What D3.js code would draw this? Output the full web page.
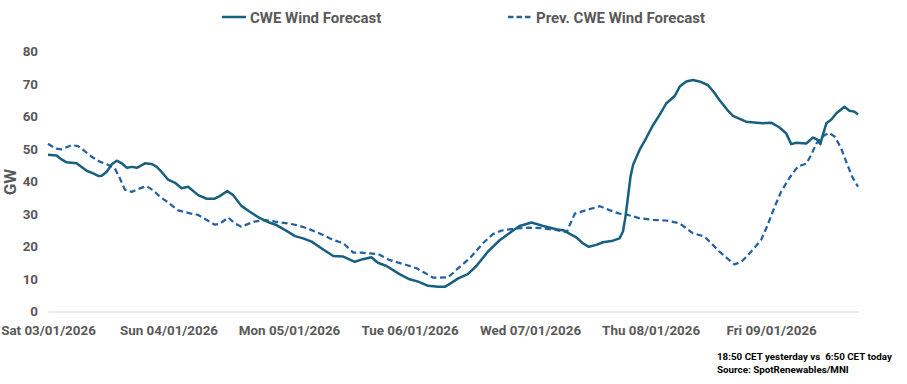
<!DOCTYPE html>
<html><head><meta charset="utf-8">
<script src="https://cdn.jsdelivr.net/npm/d3@7"></script>
<style>
body{margin:0;background:#fff}
text{font-family:"Roboto","Liberation Sans",sans-serif;font-weight:bold;white-space:pre}
</style>
</head><body>
<svg id="c" width="907" height="384"></svg>
<script>
// ---- data ----
const dayLabels = ["Sat 03/01/2026","Sun 04/01/2026","Mon 05/01/2026","Tue 06/01/2026","Wed 07/01/2026","Thu 08/01/2026","Fri 09/01/2026"];
const dayHours = [0,24,48,72,96,120,144];
const yTicks = [0,10,20,30,40,50,60,70,80];
const seriesNames = ["CWE Wind Forecast","Prev. CWE Wind Forecast"];
const footerLines = ["18:50 CET yesterday vs  6:50 CET today","Source: SpotRenewables/MNI"];

// hours since Sat 03/01/2026 00:00
const cweHours = [0,1.7,2.7,3.7,5.7,7.7,9.0,10.0,10.7,11.7,12.7,13.7,14.7,15.7,16.7,17.7,19.3,20.6,21.6,22.6,23.9,25.3,26.6,27.9,29.9,31.6,33.2,34.2,35.7,36.9,38.5,40.2,42.2,44.2,45.5,47.5,49.2,50.8,52.5,54.8,56.8,58.8,61.1,62.7,64.4,65.7,67.4,70.0,72.0,73.7,75.7,77.7,79.0,80.0,81.7,83.6,85.3,87.6,90.0,92.6,93.9,96.3,98.6,101.2,102.8,104.0,105.2,106.5,107.7,109.2,110.5,112.5,113.8,114.5,115.0,115.5,116.0,116.5,117.8,119.1,120.5,121.8,123.1,124.8,125.8,127.1,128.4,129.7,131.4,132.7,133.7,135.3,136.4,139.0,142.3,144.0,145.6,147.0,148.0,149.0,151.0,152.3,153.1,153.8,154.2,155.0,156.0,157.0,158.6,159.6,160.6,161.3];
const cweValues = [48.2,48.0,46.8,45.9,45.6,43.3,42.5,41.7,41.8,43.0,45.3,46.4,45.6,44.2,44.5,44.2,45.6,45.4,44.6,43.0,40.6,39.6,37.9,38.4,35.8,34.7,34.7,35.5,37.1,35.8,32.5,30.7,28.7,27.3,26.6,24.8,23.2,22.5,21.5,19.1,17.1,16.9,15.3,16.1,16.7,15.0,14.0,11.5,9.9,9.2,7.9,7.6,7.6,8.5,10.2,11.5,14.0,18.4,22.0,24.9,26.3,27.4,26.3,25.3,24.9,23.8,22.8,21.0,19.9,20.5,21.3,21.8,22.5,24.6,29.2,35.3,41.5,45.1,49.7,53.3,57.4,60.5,64.0,66.3,69.2,70.8,71.2,70.8,69.7,67.3,65.1,62.0,60.2,58.4,57.9,58.1,56.7,54.8,51.5,51.9,51.7,53.5,53.0,51.5,53.8,57.9,59.1,61.0,63.0,61.8,61.5,60.6];

const prevHours = [0,1.4,2.7,4.7,6.0,7.0,8.7,10.3,12.0,13.3,14.3,15.3,16.7,18.3,19.6,21.0,22.3,23.9,25.9,28.3,29.9,33.2,34.2,35.9,37.2,38.5,40.9,43.2,45.5,47.8,49.5,51.8,54.1,56.8,58.8,60.8,62.4,65.7,68.1,71.4,73.4,75.0,76.7,79.7,81.3,84.0,86.6,88.6,90.3,93.3,95.9,98.6,101.2,103.3,103.9,104.9,107.2,109.9,111.8,113.8,115.5,117.8,120.5,123.1,125.8,127.1,128.4,130.7,132.1,133.7,135.1,136.7,138.1,140.0,142.0,143.3,144.7,146.0,147.6,149.3,151.0,152.0,153.0,154.4,155.5,156.6,157.9,159.2,160.2,161.3];
const prevValues = [51.6,50.2,49.9,51.2,50.9,49.7,47.6,46.1,45.1,44.1,41.0,37.5,36.8,37.9,38.6,37.2,35.3,33.6,31.1,30.2,29.7,26.7,27.0,28.9,27.1,26.1,27.6,28.1,27.6,27.1,26.6,25.5,24.0,22.0,21.0,18.1,18.1,17.7,15.8,14.3,13.3,11.9,10.4,10.5,12.8,16.4,21.0,23.8,24.9,25.6,25.8,25.6,25.1,24.4,26.6,30.1,31.2,32.4,31.2,30.1,29.7,28.7,28.2,28.0,27.1,25.6,24.1,23.1,21.0,18.4,16.6,14.5,15.3,18.4,22.0,26.6,32.2,36.9,41.0,44.6,45.5,48.2,51.7,54.0,55.0,53.9,50.4,45.1,41.3,38.4];

// ---- styles ----
const cweColor = "#17607F";
const prevColor = "#2461A0";
const textColor = "#595959";

const svg = d3.select("#c");
const x = d3.scaleLinear().domain([0,161.3]).range([48,858]);
const y = d3.scaleLinear().domain([0,80]).range([311.5,51.5]);

// x axis
const xa = svg.append("g").attr("transform","translate(0,311.5)")
  .call(d3.axisBottom(x).tickValues(dayHours).tickFormat((d,i)=>dayLabels[i]).tickSize(0).tickSizeOuter(0).tickPadding(14));
xa.select(".domain").attr("stroke","#D9D9D9").attr("stroke-width",1.2);
xa.selectAll("text").attr("fill",textColor).style("font-size","13.4px");

// y axis
const ya = svg.append("g").attr("transform","translate(38,0)")
  .call(d3.axisLeft(y).tickValues(yTicks).tickSize(0).tickPadding(0));
ya.select(".domain").remove();
ya.selectAll("text").attr("fill",textColor).style("font-size","13.4px");

// y title
svg.append("text").attr("transform","translate(16,182) rotate(-90)")
  .attr("text-anchor","middle").attr("fill",textColor).style("font-size","17px").text("GW");

const line = d3.line().x(d=>x(d[0])).y(d=>y(d[1]));
const cweData = cweHours.map((h,i)=>[h,cweValues[i]]);
const prevData = prevHours.map((h,i)=>[h,prevValues[i]]);

svg.append("path").datum(prevData).attr("d",line).attr("fill","none")
  .attr("stroke",prevColor).attr("stroke-width",2.25).attr("stroke-dasharray","6,3.5").attr("stroke-linejoin","round");
svg.append("path").datum(cweData).attr("d",line).attr("fill","none")
  .attr("stroke",cweColor).attr("stroke-width",2.5).attr("stroke-linejoin","round");

// legend
const leg = [{x:222,name:seriesNames[0],color:cweColor,dash:null},{x:508,name:seriesNames[1],color:prevColor,dash:"5.5,3"}];
leg.forEach(l=>{
  svg.append("line").attr("x1",l.x).attr("x2",l.x+24).attr("y1",17).attr("y2",17)
    .attr("stroke",l.color).attr("stroke-width",2.5).attr("stroke-dasharray",l.dash);
  svg.append("text").attr("x",l.x+28).attr("y",22.5).attr("fill",textColor)
    .style("font-size","15px").text(l.name);
});

// footer
footerLines.forEach((t,i)=>{
  svg.append("text").attr("x",717).attr("y",359.5+i*13.5).attr("fill","#000")
    .style("font-size","9.8px").text(t);
});
</script>
</body></html>
